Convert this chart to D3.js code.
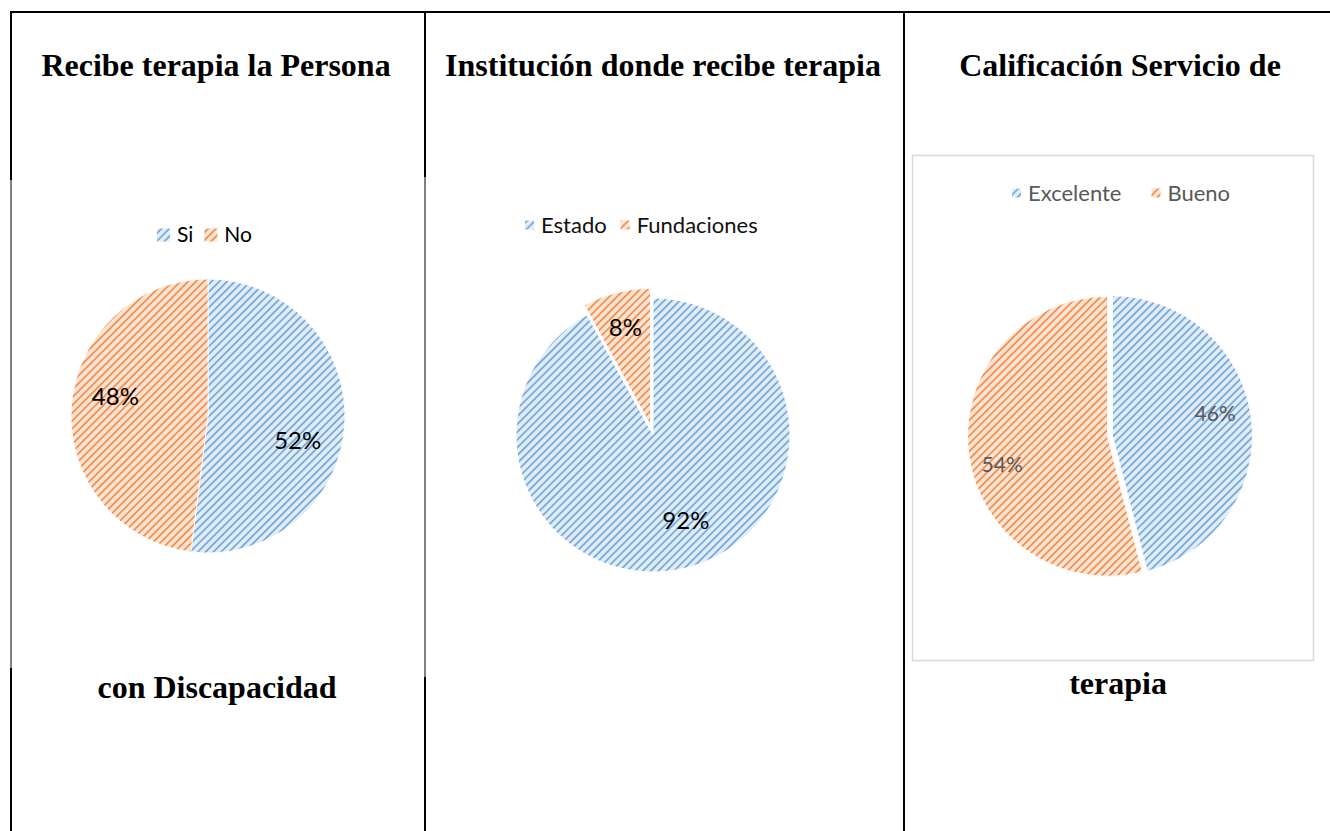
<!DOCTYPE html>
<html>
<head>
<meta charset="utf-8">
<script src="https://cdn.jsdelivr.net/npm/d3@7"></script>
<style>
  body { margin: 0; background: #fff; }
  svg { display: block; }
</style>
</head>
<body>
<div id="chart"></div>
<script>
// data
var labels1 = ["Si", "No"];
var values1 = [52, 48];
var labels2 = ["Estado", "Fundaciones"];
var values2 = [92, 8];
var labels3 = ["Excelente", "Bueno"];
var values3 = [46, 54];

var W = 1330, H = 831;
var svg = d3.select("#chart").append("svg")
    .attr("width", W)
    .attr("height", H);

// hatch patterns (wide upward diagonal)
var defs = svg.append("defs");
function hatch(id, bg, fg) {
    var p = defs.append("pattern")
        .attr("id", id)
        .attr("patternUnits", "userSpaceOnUse")
        .attr("width", 5.5)
        .attr("height", 5.5)
        .attr("patternTransform", "rotate(45)");
    p.append("rect").attr("width", 5.5).attr("height", 5.5).attr("fill", bg);
    p.append("rect").attr("width", 1.8).attr("height", 5.5).attr("fill", fg).attr("opacity", 0.8);
}
hatch("hBlue", "#e2ecf7", "#5b9bd5");
hatch("hOrange", "#fce3d3", "#ed7d31");
var fills = ["url(#hBlue)", "url(#hOrange)"];

// table lines
var lines = svg.append("g").attr("stroke", "#000");
lines.append("line").attr("x1", 10).attr("x2", W).attr("y1", 12).attr("y2", 12).attr("stroke-width", 2);
[[11, 12, 180, 2], [11, 180, 668, 1], [11, 668, H, 2],
 [425, 12, 177, 2], [425, 177, 677, 1], [425, 677, H, 2],
 [904, 12, H, 2]].forEach(function(s) {
    lines.append("line")
        .attr("x1", s[0]).attr("x2", s[0])
        .attr("y1", s[1]).attr("y2", s[2])
        .attr("stroke-width", s[3]);
});

// chart box of the third panel
svg.append("rect")
    .attr("x", 912.5).attr("y", 155.5)
    .attr("width", 401).attr("height", 505)
    .attr("fill", "none")
    .attr("stroke", "#d9d9d9")
    .attr("stroke-width", 1.5);

// titles
var serif = "'Liberation Serif', 'Times New Roman', serif";
function title(x, y, t) {
    svg.append("text")
        .attr("x", x).attr("y", y)
        .attr("text-anchor", "middle")
        .style("font-family", serif)
        .style("font-weight", "bold")
        .style("font-size", "32px")
        .text(t);
}
title(216, 76, "Recibe terapia la Persona");
title(217, 698, "con Discapacidad");
title(663, 76, "Institución donde recibe terapia");
title(1120, 76, "Calificación Servicio de");
title(1118, 694, "terapia");

var sans = "Lato, 'Noto Sans', sans-serif";

function drawPie(opt) {
    var g = svg.append("g").attr("transform", "translate(" + opt.cx + "," + opt.cy + ")");
    var pie = d3.pie().sort(null).value(function(d) { return d; });
    var arcs = pie(opt.values);
    var arc = d3.arc().innerRadius(0).outerRadius(opt.r);
    var slices = g.selectAll("g.slice")
        .data(arcs)
        .enter()
        .append("g")
        .attr("class", "slice")
        .attr("transform", function(d, i) {
            var m = (d.startAngle + d.endAngle) / 2;
            var e = opt.explode[i];
            return "translate(" + (Math.sin(m) * e) + "," + (-Math.cos(m) * e) + ")";
        });
    slices.append("path")
        .attr("d", arc)
        .attr("fill", function(d, i) { return fills[i]; })
        .attr("stroke", "#fff")
        .attr("stroke-width", opt.gap);
    slices.append("text")
        .attr("transform", function(d, i) {
            var m = (d.startAngle + d.endAngle) / 2 + opt.shift[i] * Math.PI / 180;
            var rr = opt.r * opt.labelR[i];
            return "translate(" + (Math.sin(m) * rr) + "," + (-Math.cos(m) * rr) + ")";
        })
        .attr("text-anchor", "middle")
        .attr("dy", "0.35em")
        .style("font-family", sans)
        .style("font-size", opt.labelSize + "px")
        .style("fill", opt.labelColor)
        .text(function(d) { return d.data + "%"; });

    // legend
    var lg = svg.append("g");
    var x = opt.legX;
    opt.labels.forEach(function(l, i) {
        lg.append("rect")
            .attr("x", x).attr("y", opt.legY - opt.sq / 2)
            .attr("width", opt.sq).attr("height", opt.sq)
            .attr("fill", fills[i]);
        var t = lg.append("text")
            .attr("x", x + opt.sq + 7)
            .attr("y", opt.legY)
            .attr("dy", "0.35em")
            .style("font-family", sans)
            .style("font-size", opt.legSize + "px")
            .style("fill", opt.legColor)
            .text(l);
        x += opt.sq + 7 + t.node().getComputedTextLength() + opt.legGap;
    });
}

drawPie({
    values: values1, labels: labels1,
    cx: 208, cy: 416, r: 137,
    explode: [0, 0], gap: 0.8,
    labelR: [0.68, 0.69], shift: [12, 8],
    labelSize: 24, labelColor: "#000",
    legX: 157, legY: 235, sq: 13, legSize: 21, legGap: 11, legColor: "#000"
});

drawPie({
    values: values2, labels: labels2,
    cx: 653, cy: 435, r: 137,
    explode: [0, 10], gap: 1,
    labelR: [0.67, 0.74], shift: [-6.6, 0],
    labelSize: 24, labelColor: "#000",
    legX: 525, legY: 225, sq: 9, legSize: 22, legGap: 14, legColor: "#111"
});

drawPie({
    values: values3, labels: labels3,
    cx: 1110, cy: 436, r: 140,
    explode: [2.5, 2.5], gap: 1,
    labelR: [0.75, 0.78], shift: [-5, -8],
    labelSize: 21, labelColor: "#595959",
    legX: 1012, legY: 193, sq: 9, legSize: 22, legGap: 30, legColor: "#595959"
});
</script>
</body>
</html>
